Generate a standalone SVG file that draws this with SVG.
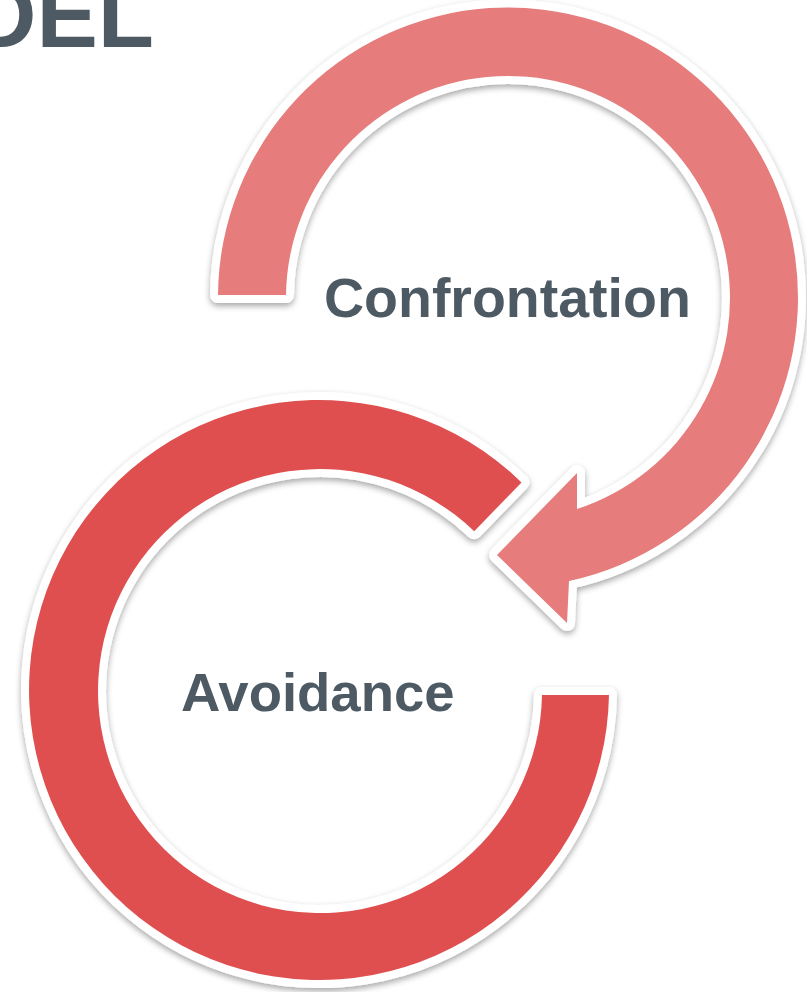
<svg xmlns="http://www.w3.org/2000/svg" width="807" height="992" viewBox="0 0 807 992">
  <style>
    .label { font-family: "Liberation Sans", Arial, sans-serif; font-weight: bold; fill: #4D5A64; }
    .ring { stroke: #FFFFFF; stroke-width: 16; stroke-linejoin: round; paint-order: stroke; filter: url(#shadow); }
  </style>
  <defs>
    <filter id="shadow" x="-10%" y="-10%" width="120%" height="120%">
      <feDropShadow dx="0" dy="3" stdDeviation="3" flood-color="#000000" flood-opacity="0.35"/>
    </filter>
  </defs>

  <!-- heading, partly off the left edge -->
  <text class="label" x="-30" y="47" font-size="92">DEL</text>

  <!-- lower ring: Avoidance -->
  <g id="avoidance">
    <path class="ring" fill="#DF5050"
          d="M 609 695 A 290 290 0 1 1 521.5 482.4 L 474.2 531.3 A 222 222 0 1 0 542 695 Z"/>
    <text class="label" x="181" y="711" font-size="54.5">Avoidance</text>
  </g>

  <!-- upper circular arrow: Confrontation -->
  <g id="confrontation">
    <path class="ring" fill="#E67B7B"
          d="M 218 295 A 290 290 0 1 1 569 581 L 567 623 L 497 555 L 577 473 L 577 509 A 222 222 0 1 0 286 295 Z"/>
    <text class="label" x="324" y="317" font-size="55.5">Confrontation</text>
  </g>
</svg>
